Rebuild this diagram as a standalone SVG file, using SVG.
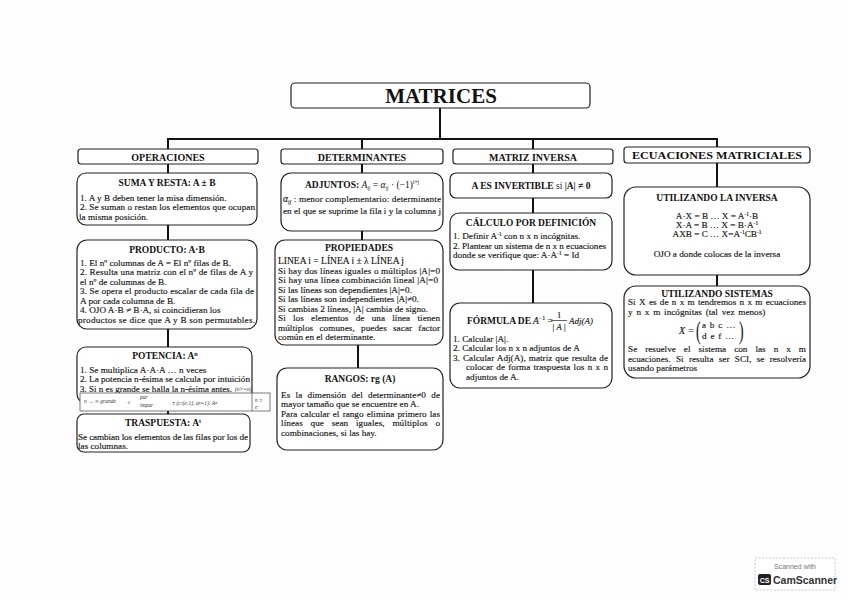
<svg xmlns="http://www.w3.org/2000/svg" width="848" height="599" viewBox="0 0 848 599">
<style>
.t{font-family:"Liberation Serif","Times New Roman",serif;font-size:9.2px;fill:#151515;stroke:#151515;stroke-width:0.15}
.h{font-family:"Liberation Serif","Times New Roman",serif;font-weight:bold;font-size:9.5px;fill:#111;text-anchor:middle}
.c{font-family:"Liberation Serif","Times New Roman",serif;font-weight:bold;font-size:10px;fill:#111;text-anchor:middle}
.m{text-anchor:middle}
.box{fill:#fff;stroke:#222;stroke-width:1.2}
.ln{stroke:#111;stroke-width:2;fill:none}
.hw{font-family:"Liberation Serif",serif;font-style:italic;font-size:5.5px;fill:#333;stroke:none}
</style>
<rect width="848" height="599" fill="#fdfdfd"/>

<g id="connectors">
<path class="ln" d="M440 108V139M167 139H718M168 139V149M362 139V149M533 139V149M717 139V147"/>
<path class="ln" d="M168 164V173M168 225V240M168 329V347M168 410V414"/>
<path class="ln" d="M362 164V173M362 231V240M358 345V368"/>
<path class="ln" d="M533 164V173M533 198V213M533 270V303"/>
<path class="ln" d="M717 163V187M717 275V286"/>
</g>

<g id="title">
<rect class="box" x="291" y="83" width="299" height="25" rx="4"/>
<text class="c" x="441" y="103" style="font-size:21px">MATRICES</text>
</g>

<g id="cat-operaciones"><rect class="box" x="78" y="149" width="180" height="15" rx="3"/><text class="c" x="168" y="160.5">OPERACIONES</text></g>
<g id="cat-determinantes"><rect class="box" x="281" y="149" width="162" height="15" rx="3"/><text class="c" x="362" y="160.5">DETERMINANTES</text></g>
<g id="cat-inversa"><rect class="box" x="453" y="149" width="160" height="15" rx="3"/><text class="c" x="533" y="160.5">MATRIZ INVERSA</text></g>
<g id="cat-ecuaciones"><rect class="box" x="624" y="147" width="186" height="16" rx="3"/><text class="c" x="632" y="159" style="text-anchor:start" textLength="170" lengthAdjust="spacingAndGlyphs">ECUACIONES MATRICIALES</text></g>

<g id="suma">
<rect class="box" x="77" y="173" width="180" height="52" rx="9"/>
<text class="h" x="167" y="185.5">SUMA Y RESTA:  A ± B</text>
<text class="t" x="80" y="200.5">1. A y B deben tener la misa dimensión.</text>
<text class="t" x="80" y="210" textLength="175" lengthAdjust="spacing">2.  Se suman o restan los elementos que ocupan</text>
<text class="t" x="79" y="219.5">la misma posición.</text>
</g>

<g id="producto">
<rect class="box" x="77" y="240" width="180" height="89" rx="10"/>
<text class="h" x="167" y="252.5">PRODUCTO: A·B</text>
<text class="t" x="80" y="265.5">1. El nº columnas de A = El nº  filas de B.</text>
<text class="t" x="80" y="275" textLength="173" lengthAdjust="spacing">2. Resulta una matriz con el nº de filas de A y</text>
<text class="t" x="80" y="284.5">el nº de columnas de B.</text>
<text class="t" x="80" y="294" textLength="174" lengthAdjust="spacing">3. Se opera el producto escalar de cada fila de</text>
<text class="t" x="80" y="303.5">A por cada columna de B.</text>
<text class="t" x="80" y="313">4. OJO  A·B ≠ B·A, si coincidieran los</text>
<text class="t" x="78" y="322.5" textLength="177" lengthAdjust="spacing">productos se dice que A y B son permutables.</text>
</g>

<g id="potencia">
<rect class="box" x="77" y="347" width="175" height="56" rx="9"/>
<text class="h" x="165" y="358.5">POTENCIA: A<tspan dy="-3" font-size="6">n</tspan></text>
<text class="t" x="80" y="372.5">1. Se multiplica A·A·A … n veces</text>
<text class="t" x="80" y="382" textLength="170" lengthAdjust="spacing">2. La potencia n-ésima se calcula por intuición</text>
<text class="t" x="80" y="391.5" textLength="152" lengthAdjust="spacingAndGlyphs">3. Si n es grande se halla la n-ésima antes.</text>
<text class="hw" x="235" y="390.5" font-size="5">(n&gt;=n)</text>
<rect x="80" y="393" width="190" height="18" fill="#fff" stroke="#444" stroke-width="0.7"/>
<line x1="252" y1="393" x2="252" y2="411" stroke="#444" stroke-width="0.7"/>
<text class="hw" x="84" y="403">n → ∞ grande</text>
<text class="hw" x="140" y="398.5">par</text>
<text class="hw" x="140" y="407" font-size="6.5">impar</text>
<text class="hw" x="127" y="405" font-size="11">&lt;</text>
<text class="hw" x="172" y="405">±  (c:(e:1), aⁿ=1): Aⁿ</text>
<text class="hw" x="255" y="402">n ≥</text>
<text class="hw" x="255" y="409">e·</text>
</g>

<g id="traspuesta">
<rect class="box" x="77" y="414" width="173" height="38" rx="7"/>
<text class="h" x="163" y="425.5">TRASPUESTA:  A<tspan dy="-3" font-size="6">t</tspan></text>
<text class="t" x="78" y="439.5" textLength="170" lengthAdjust="spacing">Se cambian los elementos de las filas por  los de</text>
<text class="t" x="78" y="449">las columnas.</text>
</g>

<g id="adjuntos">
<rect class="box" x="281" y="173" width="162" height="58" rx="10"/>
<text class="h" x="362" y="187.5">ADJUNTOS:  <tspan font-style="italic" font-weight="normal" font-size="9.5">A</tspan><tspan dy="2" font-size="5.5" font-style="italic" font-weight="normal">ij</tspan><tspan dy="-2" font-weight="normal"> = </tspan><tspan font-style="italic" font-weight="normal" font-size="9.5">α</tspan><tspan dy="2" font-size="5.5" font-style="italic" font-weight="normal">ij</tspan><tspan dy="-2" font-weight="normal"> · (−1)</tspan><tspan dy="-3.5" font-size="5.5" font-weight="normal">i+j</tspan></text>
<text class="t" x="283" y="201.5" textLength="158" lengthAdjust="spacing"><tspan font-style="italic" font-size="9.5">α</tspan><tspan dy="2" font-size="5.5" font-style="italic">ij</tspan><tspan dy="-2"> : menor complementario: determinante</tspan></text>
<text class="t" x="283" y="213.5" textLength="158" lengthAdjust="spacing">en el que se suprime la fila i y la columna j</text>
</g>

<g id="propiedades">
<rect class="box" x="275" y="240" width="168" height="105" rx="10"/>
<text class="h" x="359" y="250.5">PROPIEDADES</text>
<text class="t" x="278" y="264" style="font-size:9.5px">LINEA i = LÍNEA i ± λ LÍNEA j</text>
<text class="t" x="278" y="273.5" textLength="162" lengthAdjust="spacing">Si hay dos líneas iguales o múltiplos |A|=0</text>
<text class="t" x="278" y="283" textLength="160" lengthAdjust="spacing">Si hay una línea combinación lineal  |A|=0</text>
<text class="t" x="278" y="292.5">Si las líneas son dependientes |A|=0.</text>
<text class="t" x="278" y="302">Si las líneas son independientes  |A|≠0.</text>
<text class="t" x="278" y="311.5">Si cambias 2 líneas, |A| cambia de signo.</text>
<text class="t" x="278" y="321" style="word-spacing:5px" textLength="162" lengthAdjust="spacing">Si los elementos de una línea tienen</text>
<text class="t" x="278" y="330.5" style="word-spacing:3.8px" textLength="162" lengthAdjust="spacing">múltiplos comunes, puedes sacar factor</text>
<text class="t" x="278" y="340">común en el determinante.</text>
</g>

<g id="rangos">
<rect class="box" x="277" y="368" width="166" height="82" rx="10"/>
<text class="h" x="360" y="381.5">RANGOS: rg (A)</text>
<text class="t" x="281" y="397.5" style="word-spacing:3px" textLength="159" lengthAdjust="spacing">Es la dimensión del determinante≠0 de</text>
<text class="t" x="281" y="407">mayor tamaño que se encuentre en A.</text>
<text class="t" x="281" y="416.5" style="word-spacing:0.9px" textLength="159" lengthAdjust="spacing">Para calcular el rango elimina primero las</text>
<text class="t" x="281" y="426" style="word-spacing:5.3px" textLength="159" lengthAdjust="spacing">líneas que sean iguales, múltiplos o</text>
<text class="t" x="281" y="435.5">combinaciones, si las hay.</text>
</g>

<g id="invertible">
<rect class="box" x="450" y="173" width="162" height="25" rx="6"/>
<text class="h" x="531" y="189">A ES INVERTIBLE  <tspan font-weight="normal">si</tspan>  |A| ≠ 0</text>
</g>

<g id="calculo">
<rect class="box" x="450" y="213" width="162" height="57" rx="9"/>
<text class="h" x="531" y="225.5">CÁLCULO POR DEFINICIÓN</text>
<text class="t" x="453" y="239">1. Definir A<tspan dy="-3" font-size="5.5">-1</tspan><tspan dy="3"> con n x n incógnitas.</tspan></text>
<text class="t" x="453" y="248.5" textLength="153" lengthAdjust="spacing">2. Plantear un sistema de n x n ecuaciones</text>
<text class="t" x="453" y="258">donde se verifique que: A·A<tspan dy="-3" font-size="5.5">-1</tspan><tspan dy="3"> = Id</tspan></text>
</g>

<g id="formula">
<rect class="box" x="450" y="303" width="162" height="85" rx="10"/>
<text class="h" x="499" y="323.5">FÓRMULA DE</text>
<text class="t" x="533" y="323.5" style="font-size:9.5px"><tspan font-style="italic">A</tspan><tspan dy="-3.5" font-size="6">−1</tspan><tspan dy="3.5"> =</tspan></text>
<text class="t m" x="559" y="317.5" style="font-size:8.5px">1</text>
<line x1="551" y1="320.5" x2="567" y2="320.5" stroke="#222" stroke-width="0.7"/>
<text class="t m" x="559" y="329.5" style="font-size:8.5px;font-style:italic">| A |</text>
<text class="t" x="569" y="323.5" style="font-size:9px;font-style:italic">Adj(A)</text>
<text class="t" x="453" y="341.5">1. Calcular |A|.</text>
<text class="t" x="453" y="351">2. Calcular los n x n adjuntos de A</text>
<text class="t" x="453" y="360.5" style="word-spacing:0.7px" textLength="155" lengthAdjust="spacing">3. Calcular Adj(A), matriz que resulta de</text>
<text class="t" x="466" y="370" style="word-spacing:1px" textLength="142" lengthAdjust="spacing">colocar de forma traspuesta los n x n</text>
<text class="t" x="466" y="379.5">adjuntos de A.</text>
</g>

<g id="usando-inversa">
<rect class="box" x="624" y="187" width="186" height="88" rx="12"/>
<text class="h" x="717" y="201">UTILIZANDO  LA INVERSA</text>
<text class="t m" x="717" y="218.5">A·X = B … X = A<tspan dy="-3" font-size="5.5">-1</tspan><tspan dy="3">·B</tspan></text>
<text class="t m" x="717" y="227.5">X·A = B … X = B·A<tspan dy="-3" font-size="5.5">-1</tspan></text>
<text class="t m" x="717" y="236.5">AXB = C … X=A<tspan dy="-3" font-size="5.5">-1</tspan><tspan dy="3">CB</tspan><tspan dy="-3" font-size="5.5">-1</tspan></text>
<text class="t m" x="717" y="256.5">OJO a donde colocas de la inversa</text>
</g>

<g id="usando-sistemas">
<rect class="box" x="624" y="286" width="186" height="92" rx="12"/>
<text class="h" x="717" y="296.5">UTILIZANDO SISTEMAS</text>
<text class="t" x="628" y="305" style="word-spacing:1px" textLength="178" lengthAdjust="spacing">Si X es de n x m tendremos n x m ecuaciones</text>
<text class="t" x="628" y="314.5" style="word-spacing:1.5px">y n x m incógnitas (tal vez menos)</text>
<text class="t" x="679" y="334" style="font-size:10px;font-style:italic">X =</text>
<text class="t" x="696" y="339" style="font-size:25px" transform="translate(696 0) scale(0.55 1) translate(-696 0)">(</text>
<text class="t" x="702" y="328" style="word-spacing:1.5px">a b c …</text>
<text class="t" x="702" y="339" style="word-spacing:1.5px">d e f …</text>
<text class="t" x="739" y="339" style="font-size:25px" transform="translate(739 0) scale(0.55 1) translate(-739 0)">)</text>
<text class="t" x="628" y="352" style="word-spacing:5.7px" textLength="178" lengthAdjust="spacing">Se resuelve el sistema con las n x m</text>
<text class="t" x="628" y="361.5" style="word-spacing:3px" textLength="178" lengthAdjust="spacing">ecuaciones. Si resulta ser SCI, se resolvería</text>
<text class="t" x="628" y="371">usando parámetros</text>
</g>

<g id="camscanner">
<rect x="755" y="558" width="80" height="32" fill="#fff" stroke="#bbb" stroke-width="0.8" stroke-dasharray="2 1.5"/>
<text x="795" y="568.5" text-anchor="middle" style="font-family:'Liberation Sans',Arial,sans-serif;font-size:7px;fill:#777">Scanned with</text>
<rect x="758" y="574" width="13" height="11" rx="2" fill="#222"/>
<text x="764.5" y="582.5" text-anchor="middle" style="font-family:'Liberation Sans',Arial,sans-serif;font-size:7px;font-weight:bold;fill:#fff">CS</text>
<text x="773" y="583.5" style="font-family:'Liberation Sans',Arial,sans-serif;font-size:10.5px;font-weight:bold;fill:#333">CamScanner</text>
</g>
</svg>
